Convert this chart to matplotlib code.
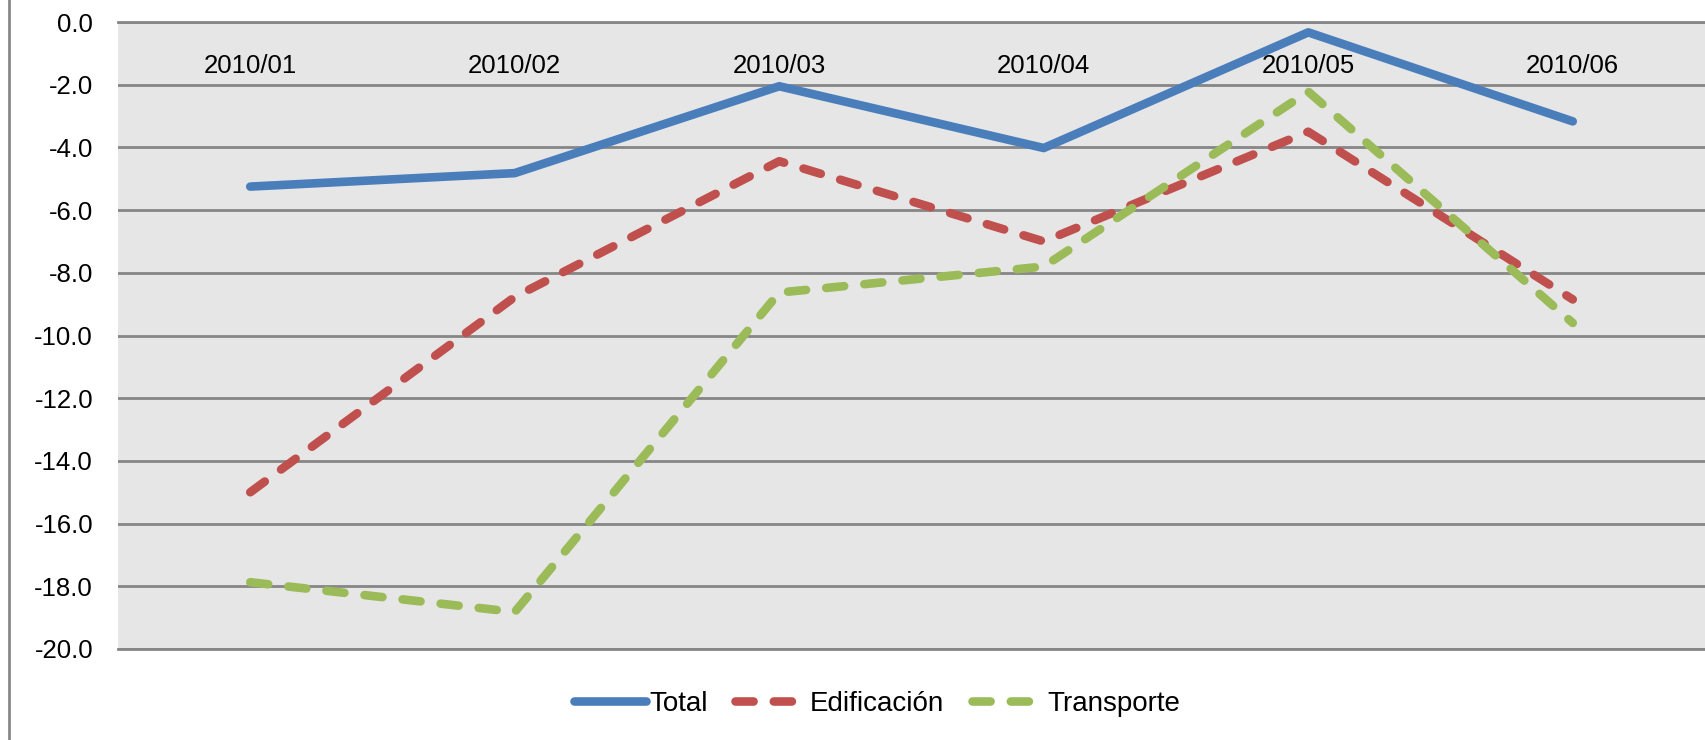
import matplotlib
matplotlib.use("Agg")
import matplotlib.pyplot as plt
from matplotlib.lines import Line2D

categories = ["2010/01", "2010/02", "2010/03", "2010/04", "2010/05", "2010/06"]
total = [-5.25, -4.82, -2.05, -4.02, -0.33, -3.17]
edificacion = [-15.0, -8.77, -4.44, -7.0, -3.5, -8.85]
transporte = [-17.87, -18.82, -8.63, -7.8, -2.22, -9.6]
yticks = [0, -2, -4, -6, -8, -10, -12, -14, -16, -18, -20]

plt.rcParams['font.family'] = ['Liberation Sans', 'DejaVu Sans']

fig = plt.figure(figsize=(17.05, 7.4), dpi=100)
ax = fig.add_axes([118/1705, 1-649/740, 1-118/1705, 627/740])
ax.set_facecolor('#e6e6e6')

x = list(range(len(categories)))
lw = 6.2
dash = (2.1, 2.35)
ax.plot(x, total, color='#4a7ebb', lw=lw, solid_capstyle='round', solid_joinstyle='round', label='Total', zorder=3)
ax.plot(x, edificacion, color='#c0504d', lw=lw, dashes=dash, dash_capstyle='round', label='Edificación', zorder=3)
ax.plot(x, transporte, color='#9bbb59', lw=lw, dashes=dash, dash_capstyle='round', label='Transporte', zorder=3)

ax.set_xlim(-0.5, len(categories) - 0.5)
ax.set_ylim(-20, 0)
ax.set_yticks(yticks)
ax.set_yticklabels([f"{v:.1f}" for v in yticks], fontsize=18.5)
ax.tick_params(axis='y', length=0, pad=18)
ax.set_xticks([])
for s in ax.spines.values():
    s.set_visible(False)
ax.yaxis.grid(True, color='#868686', lw=2)
ax.set_axisbelow(True)
for v in (0, -20):
    ax.axhline(v, color='#868686', lw=2, zorder=1, clip_on=False)

for xi, lab in zip(x, categories):
    ax.text(xi, 1 - 44/627, lab, transform=ax.get_xaxis_transform(), ha='center', va='center', fontsize=18.5)

fig.add_artist(Line2D([9/1705, 9/1705], [0, 1], color='#888888', lw=2))

leg = fig.legend(loc='center', bbox_to_anchor=(877/1705, 1-704/740), ncol=3, frameon=False,
                 fontsize=20, handlelength=2.6, handletextpad=0.1, columnspacing=1.0)

fig.savefig('out.png', dpi=100)
